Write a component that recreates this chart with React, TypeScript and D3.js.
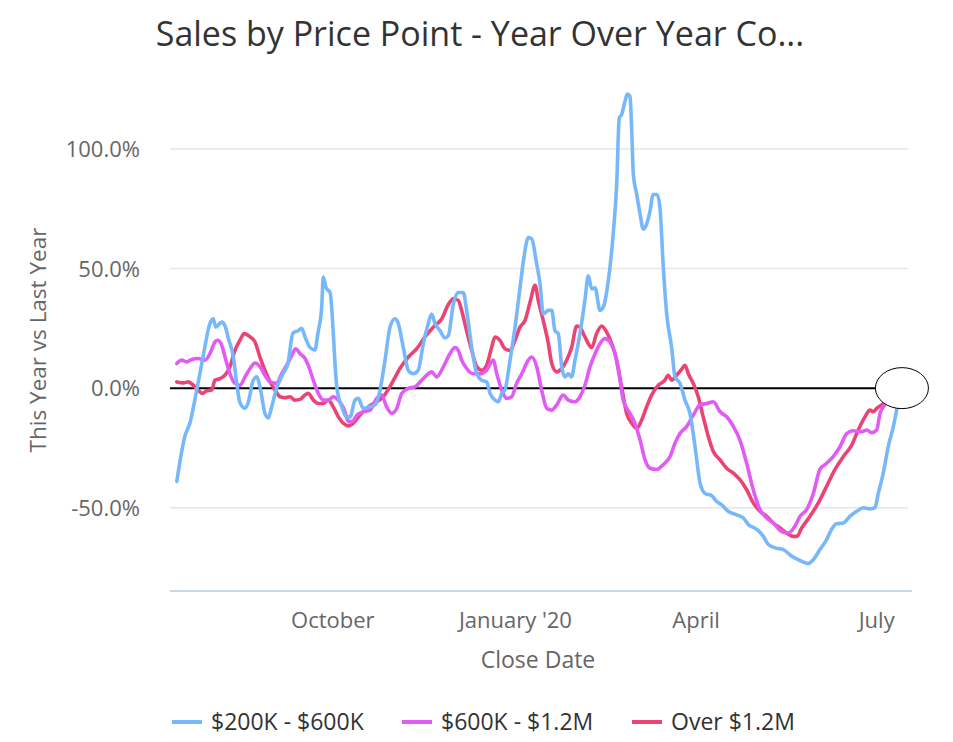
import React from 'react';
import * as d3 from 'd3';

// days since 14 Jul 2019 and year-over-year change (%)
const startDate = new Date(2019, 6, 14);
const endDay = 367;

const blueDays = [0.4, 4.5, 7, 10.4, 13.6, 17.1, 18.8, 20, 23, 24.7, 26.3, 28.9, 30.6, 32.2, 34.8, 36.4, 38.9, 40.7, 42.3, 44.8, 46.5, 48.2, 50.7, 53.9, 56.4, 58.9, 61.5, 63.3, 65, 67.5, 70, 71.5, 73.4, 74.2, 75.6, 77.6, 81, 83.5, 86, 87.7, 90.2, 91.8, 94.4, 97.7, 100.3, 102.8, 105.3, 107.8, 110.3, 112, 114.5, 117, 119.5, 122, 124.6, 127.1, 128.8, 130.5, 133, 135.5, 137.2, 139.7, 142.2, 144.7, 146.4, 149, 151.5, 154, 156.5, 158.2, 160.7, 162.4, 164.1, 165.7, 168.3, 170.8, 173.3, 175, 177.5, 179.2, 181.7, 183.4, 185, 187.6, 189.3, 190.9, 192.6, 194.3, 196, 197.6, 199.3, 201, 203.5, 206, 207.7, 209.4, 211.1, 213.6, 215.3, 217.8, 220.3, 222, 223.3, 224.5, 226.2, 227.4, 228.7, 229.6, 230.4, 232.1, 233.8, 235.4, 237.1, 238.8, 240.4, 242.4, 243.8, 245.5, 247.2, 249.7, 251.4, 253.9, 256.4, 258.9, 261.5, 264, 266.5, 269.9, 272.4, 274.9, 278.2, 282.5, 285.8, 288.3, 292.5, 295.9, 298.4, 301.8, 306, 310.2, 313.5, 318.6, 321.1, 324.4, 327.8, 330.3, 332.8, 336.2, 339.5, 342.9, 346.2, 349.6, 352.1, 353.8, 356.3, 358.8, 361.4, 363.1, 364.7];
const blueValues = [-39, -20, -14.6, -1, 13, 27, 29, 25.5, 27.6, 26, 21, 13, 2, -6, -8.4, -6, 3.3, 4.7, 0.5, -10.5, -12.5, -7.8, 0, 6, 10.4, 23, 24, 25, 21.4, 17, 16, 23, 34, 46.5, 42, 40, 0.5, -7.8, -12, -12, -5, -4.3, -8.5, -7.8, -7, -0.8, 11.7, 25.5, 29, 27, 17, 7.5, 6, 7.5, 18.6, 27, 31, 27, 24, 21, 22, 35, 40, 40, 32.5, 17, 6, 3.3, 2.6, -2.2, -5, -5.7, -2.2, -0.8, 11.7, 25.5, 42, 53, 63, 62.4, 52, 43.6, 31, 32.5, 32.5, 24, 22.8, 9, 4.7, 6, 4.7, 11.7, 22.8, 36.7, 47, 41.5, 42, 32.5, 34, 45, 65, 85, 113, 114.4, 120, 123, 122, 107.5, 89.4, 81, 72.8, 66.5, 68.6, 74, 81, 81, 75.5, 50.5, 31, 17, 4.7, 2, -5, -10.5, -24.5, -39.7, -44, -45, -47.4, -48.8, -51.5, -53, -54.3, -57, -59, -62, -65.4, -66.8, -67.5, -70.3, -71.7, -73.3, -71.7, -67.5, -63.3, -59, -56.7, -56.4, -53.6, -51.5, -50, -50.5, -50, -44, -35.5, -24.5, -16, -9, -2];

const magentaDays = [0.4, 2.9, 5.4, 7.9, 11.2, 14.6, 17.1, 19.6, 21, 23, 24.7, 27.2, 29.7, 32.2, 34.8, 37.3, 39.8, 42.3, 44.8, 47.4, 50.7, 53.2, 55.8, 58.3, 60.3, 62.5, 65, 66.6, 69.2, 71.7, 74.2, 76.7, 79.2, 81.8, 84.5, 87, 88.7, 91.2, 94.4, 97.7, 101.1, 103.6, 106.1, 108.7, 111.2, 113.7, 117, 120.4, 123.8, 127.1, 128.8, 131.3, 134.7, 138, 140.6, 142.2, 143.9, 146.4, 149.8, 153.1, 156.5, 159.8, 161.6, 164.1, 166.6, 169.1, 171.6, 174.2, 177.5, 179.2, 181.7, 184.2, 186.8, 189.3, 191.8, 195.1, 197.6, 201, 203.5, 206, 208.6, 211.1, 213.6, 216.1, 218.6, 221.2, 223.7, 225.3, 228.7, 231.2, 233.8, 236.3, 238.8, 242.2, 245.5, 248.9, 251.4, 253.9, 257.3, 260.6, 264, 267.4, 270.7, 274.1, 277.4, 280.8, 284.1, 287.5, 290.8, 294.2, 297.6, 300.9, 305.1, 308.5, 311.8, 314.4, 317.7, 321.1, 324.4, 327.8, 331.1, 334.5, 337.9, 341.2, 345.4, 348, 350.5, 353, 354.7, 356.3, 359.7, 364.7];
const magentaValues = [10.3, 11.7, 11, 12, 12.4, 11.7, 14.4, 19.3, 20, 18, 13, 6, 2, 1.2, 4.7, 8.2, 10.5, 9, 5.4, 2.6, 2, 6, 9.6, 13.7, 16.5, 14.4, 12.4, 9.6, 3.3, -2.2, -5, -5, -3.6, -5, -8.5, -14, -14, -11.3, -9.9, -9.2, -4.3, -2.9, -7.8, -10.5, -8.5, -2.2, -0.1, 0.5, 3.3, 6, 6.8, 4.7, 8.9, 14.4, 17, 15.8, 11.7, 8.2, 6, 6, 7.5, 11.7, 6, -0.8, -4.3, -3.6, 2, 6, 11.7, 13, 9, -0.8, -8.5, -9.2, -7, -2.9, -5, -5.7, -3.6, 1.2, 9, 14.4, 18.6, 20.7, 19.3, 14.4, 3.3, -5, -10.5, -14.7, -21.7, -30, -33.5, -34, -32, -28.6, -23, -19, -16, -11.3, -7, -6.4, -5.7, -9.9, -12, -16, -21.7, -31.4, -42.5, -50.8, -54.3, -56.4, -60, -60.6, -57.8, -53.6, -50.8, -44, -34, -31.4, -28.6, -24.5, -19, -17.8, -18.2, -17.5, -18.6, -17.5, -10.5, -7.8, -5, -3];

const redDays = [0.4, 3.7, 6.2, 8.7, 11.2, 13.2, 15.5, 18, 19.6, 22.2, 24.7, 27.2, 29.7, 32.2, 34.4, 37.3, 39.8, 42.3, 44.8, 47.4, 49.9, 52.4, 54.9, 57.4, 59.9, 62.5, 65, 66.6, 69.2, 71.7, 74.2, 76.7, 79.2, 81.8, 84.3, 86.8, 89.3, 92.7, 96.9, 101.1, 104.4, 108.7, 112.8, 117, 121.3, 125.4, 129.6, 133.9, 137.2, 139.7, 142.2, 143.9, 146.4, 149, 151.5, 154, 156.5, 159, 160.7, 163.2, 165.7, 168.3, 170.8, 173.3, 175.8, 178.4, 180.9, 182.5, 185, 187.6, 189.3, 191.8, 194.3, 196.8, 199.3, 201.9, 203.5, 206, 209.4, 211.9, 214.4, 216.9, 219.5, 222, 224.5, 227, 229.6, 232.1, 234.6, 237.1, 239.6, 243, 246.3, 248, 249.7, 252.2, 254.7, 256.4, 258.1, 260.6, 263.1, 265.6, 268.2, 270.7, 274.1, 277.4, 280.8, 284.1, 287.5, 290.8, 294.2, 297.6, 300.9, 304.3, 307.6, 311, 312.8, 315.2, 319.4, 323.6, 327.8, 332, 336.2, 340.4, 343.7, 347.1, 349.6, 351.3, 353, 355.5, 359.7, 364.7];
const redValues = [2.6, 2.2, 2.6, 1.2, -0.8, -2.2, -1.1, -0.8, 3.3, 4, 5.4, 9, 15.8, 20, 22.8, 21.4, 19.3, 13, 7.5, 2.6, -0.8, -3.6, -4, -3.6, -5, -4.7, -2.9, -2.2, -5, -6.4, -6.4, -5, -7.8, -12, -14.7, -15.8, -14.7, -11.3, -7.8, -5.7, -3.6, 2, 8.2, 13, 16.5, 21.4, 25.5, 29, 35, 37.4, 36.7, 32.5, 24, 15.8, 9, 7.5, 9.6, 17, 21.4, 20, 16.5, 15.8, 20, 25.5, 28.3, 36, 43, 36.7, 28.3, 18.6, 10.3, 6.8, 8.2, 11.7, 17, 26, 25.5, 21.4, 17, 22.8, 26, 23.5, 18.6, 11.7, 0.5, -10.5, -14.7, -16.8, -13.3, -7.8, -2.9, 1.2, 3.3, 5.4, 3.3, 5.4, 7.8, 9.6, 6, 2, -3.6, -12, -20.3, -26.5, -30, -33.5, -35.5, -38.3, -42.5, -48, -51.5, -53.6, -56.4, -58.5, -60.6, -62, -62, -58.5, -53.6, -48, -41, -34, -28.6, -23.8, -17.5, -12, -9.2, -9.9, -8.5, -7, -4, -2];

const seriesNames = ['$200K - $600K', '$600K - $1.2M', 'Over $1.2M'];
const seriesColors = ['#77b8fb', '#e15cf5', '#ea4474'];

const yTicks = [-50, 0, 50, 100];
const xTickDates = [new Date(2019, 9, 1), new Date(2020, 0, 1), new Date(2020, 3, 1), new Date(2020, 6, 1)];
const xTickLabels = ['October', "January '20", 'April', 'July'];

const title = 'Sales by Price Point - Year Over Year Co...';
const yTitle = 'This Year vs Last Year';
const xTitle = 'Close Date';

const W = 953;
const H = 742;
const font = "'Open Sans', sans-serif";

export default function App() {
  const dayToDate = (d: number) => new Date(startDate.getTime() + d * 86400000);

  const x = d3.scaleTime()
    .domain([startDate, dayToDate(endDay)])
    .range([176, 176 + endDay * 1.985]);
  const y = d3.scaleLinear().domain([-50, 100]).range([507.7, 149]);

  const plotLeft = 170;
  const plotRight = 908;
  const axisY = 591;

  const makeLine = (days: number[], vals: number[]) =>
    d3.line<number>()
      .x((_, i) => x(dayToDate(days[i])))
      .y((v) => y(v))
      .curve(d3.curveMonotoneX)(vals) || '';

  const series = [
    { days: blueDays, vals: blueValues, color: seriesColors[0] },
    { days: magentaDays, vals: magentaValues, color: seriesColors[1] },
    { days: redDays, vals: redValues, color: seriesColors[2] },
  ];
  // draw order: red, magenta, blue on top
  const drawOrder = [2, 1, 0];

  const lastDate = dayToDate(blueDays[blueDays.length - 1]);
  const legendX = [172, 402, 632];
  const pct = (t: number) => t.toFixed(1) + '%';

  return (
    <svg width={W} height={H} style={{ position: 'absolute', left: 0, top: 0, background: '#fff' }}
      fontFamily={font}>
      <rect width={W} height={H} fill="#fff" />
      <text x={480} y={46} textAnchor="middle" fontSize={34} fill="#333">{title}</text>

      {yTicks.map((t) => (
        <g key={t}>
          {t !== 0 && (
            <line x1={plotLeft} x2={plotRight} y1={y(t)} y2={y(t)} stroke="#e6e6e6" strokeWidth={1.5} />
          )}
          <text x={140} y={y(t) + 8} textAnchor="end" fontSize={22} fill="#666">{pct(t)}</text>
        </g>
      ))}

      <line x1={plotLeft} x2={x(lastDate)} y1={y(0)} y2={y(0)} stroke="#000" strokeWidth={2} />

      <line x1={plotLeft} x2={912} y1={axisY} y2={axisY} stroke="#ccd6eb" strokeWidth={2} />

      {drawOrder.map((k) => (
        <path key={k} d={makeLine(series[k].days, series[k].vals)} fill="none"
          stroke={series[k].color} strokeWidth={3.6} strokeLinejoin="round" strokeLinecap="round" />
      ))}

      <ellipse cx={x(lastDate) + 2} cy={y(0)} rx={26.5} ry={20.5} fill="#fff" stroke="#000" strokeWidth={1} />

      {xTickDates.map((d, i) => (
        <text key={i} x={x(d)} y={628} textAnchor="middle" fontSize={22} fill="#666">{xTickLabels[i]}</text>
      ))}

      <text x={538} y={668} textAnchor="middle" fontSize={23} fill="#666">{xTitle}</text>
      <text transform="translate(46,340) rotate(-90)" textAnchor="middle" fontSize={22.5} fill="#666">{yTitle}</text>

      {seriesNames.map((name, i) => (
        <g key={name}>
          <line x1={legendX[i]} x2={legendX[i] + 30} y1={722} y2={722} stroke={seriesColors[i]} strokeWidth={4} />
          <text x={legendX[i] + 39} y={730} fontSize={23} fill="#333">{name}</text>
        </g>
      ))}
    </svg>
  );
}
